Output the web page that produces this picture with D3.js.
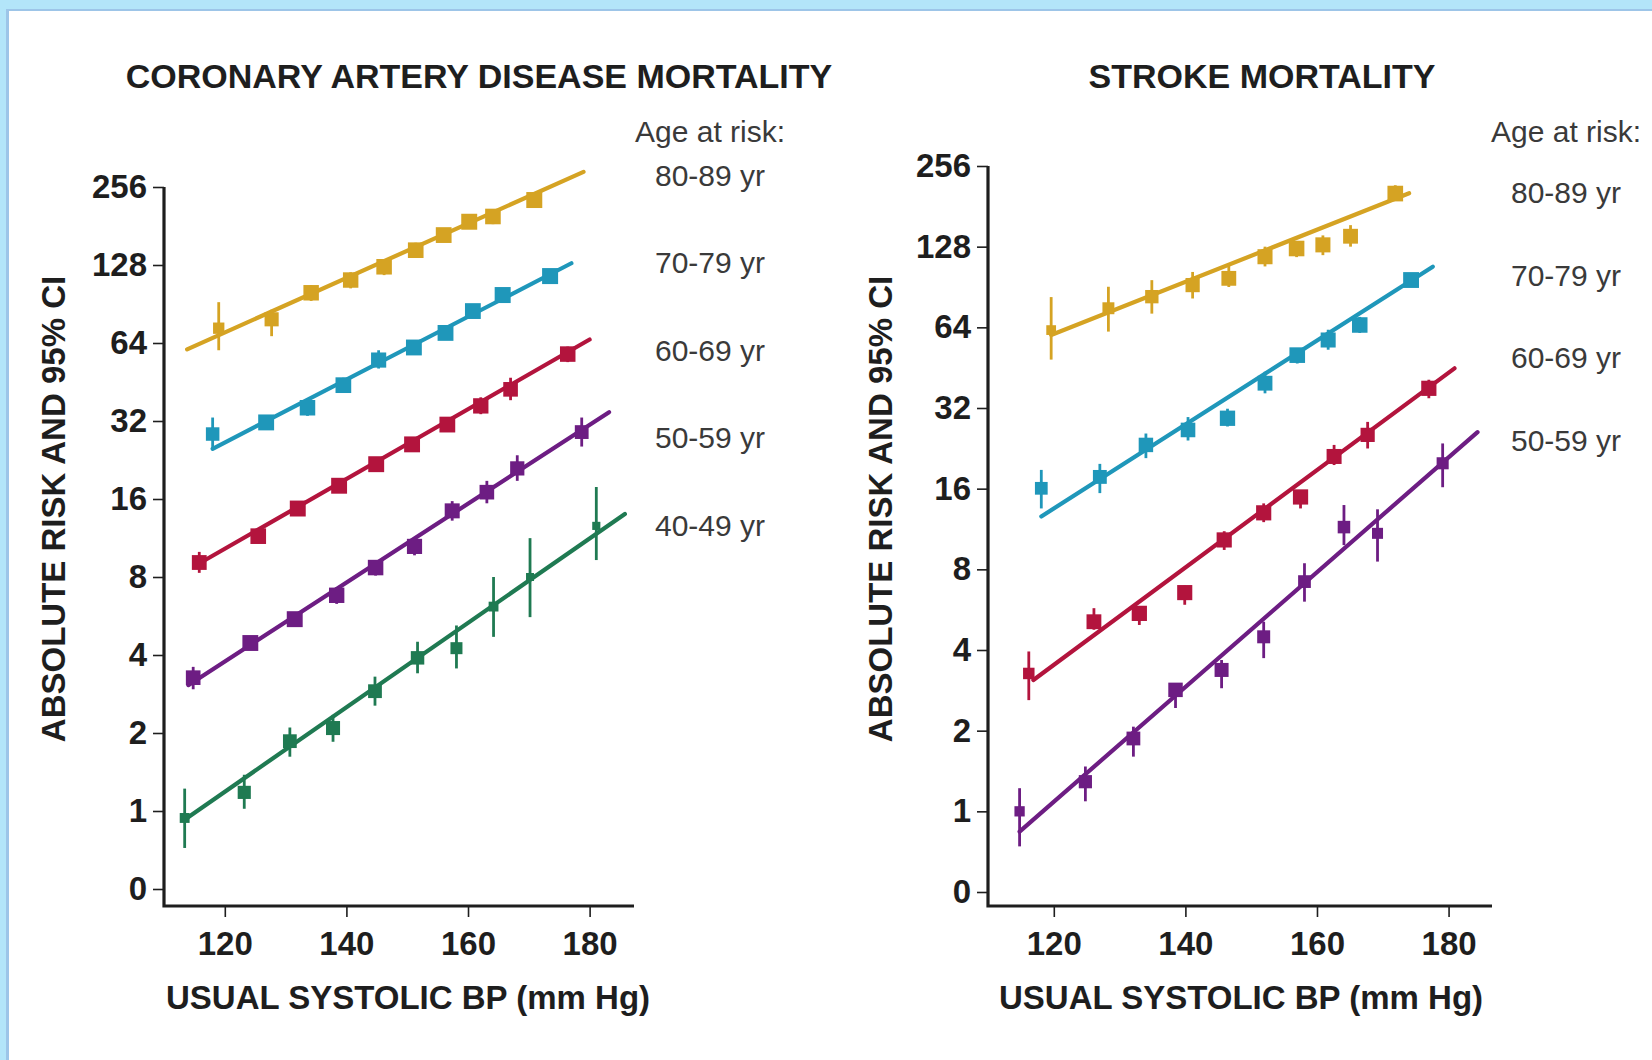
<!DOCTYPE html>
<html>
<head>
<meta charset="utf-8">
<script src="https://cdn.jsdelivr.net/npm/d3@7"></script>
<style>
  body { margin: 0; background: #b3e5f9; }
  svg { display: block; font-family: "Liberation Sans", Arial, sans-serif; }
</style>
</head>
<body>
<svg id="chart" width="1652" height="1060"></svg>
<script>
// Age groups, top to bottom
const ageLabels = ["80-89 yr", "70-79 yr", "60-69 yr", "50-59 yr", "40-49 yr"];
const yTicks = [0.5, 1, 2, 4, 8, 16, 32, 64, 128, 256];
const yTickLabels = ["0", "1", "2", "4", "8", "16", "32", "64", "128", "256"];
const xTicks = [120, 140, 160, 180];

// Coronary artery disease: [usual SBP, risk, lower CI, upper CI]
const cad80 = [[119.0, 73, 60, 92], [127.7, 79, 68, 86], [134.2, 100, 93, 107], [140.7, 112, 104, 120], [146.2, 126, 117, 134],
  [151.4, 146, 137, 156], [156.0, 167, 157, 177], [160.2, 188, 178, 198], [164.1, 197, 184, 210], [170.9, 228, 216, 240]];
const cad70 = [[118.0, 28.5, 25, 33], [126.8, 31.6, 30, 33.5], [133.6, 36, 33.5, 38.5], [139.5, 44, 41.5, 47], [145.3, 55, 51, 60],
  [151.1, 61.5, 58, 65], [156.3, 70, 66, 74], [160.8, 85, 80, 90], [165.7, 98, 93, 103], [173.5, 116, 110, 122]];
const cad60 = [[115.8, 9.1, 8.3, 10], [125.5, 11.5, 10.8, 12.3], [132.0, 14.7, 13.9, 15.5], [138.8, 18, 17, 19], [144.9, 21.8, 20.6, 23],
  [150.8, 26, 24.6, 27.5], [156.6, 31, 29.3, 33], [162.1, 36.6, 34, 39.5], [167.0, 42.4, 38.5, 47], [176.4, 58, 54, 62]];
const cad50 = [[114.8, 3.27, 2.95, 3.6], [124.2, 4.45, 4.2, 4.7], [131.5, 5.5, 5.2, 5.8], [138.4, 6.8, 6.3, 7.3], [144.8, 8.7, 8.1, 9.3],
  [151.2, 10.5, 9.7, 11.4], [157.4, 14.4, 13.2, 15.7], [163.1, 17, 15.4, 18.8], [168.1, 21, 18.8, 23.6], [178.7, 29, 25.5, 33]];
const cad40 = [[113.4, 0.94, 0.72, 1.22], [123.2, 1.18, 1.02, 1.38], [130.7, 1.86, 1.62, 2.1], [137.8, 2.09, 1.85, 2.35], [144.7, 2.9, 2.55, 3.3],
  [151.7, 3.9, 3.4, 4.5], [158.1, 4.25, 3.55, 5.2], [164.2, 6.15, 4.7, 8.0], [170.2, 8.0, 5.6, 11.3], [181.1, 12.6, 9.3, 17.8]];
// fitted lines: [SBP start, risk start, SBP end, risk end]
const cadFits = [[113.8, 60.5, 179.0, 293], [118.0, 25, 177.0, 130], [115.7, 9.0, 180.0, 66], [114.0, 3.06, 183.2, 34.6], [113.5, 0.93, 185.8, 14.0]];

// Stroke
const stroke80 = [[119.6, 62.5, 48.5, 83], [128.3, 75.4, 61.7, 90.7], [134.9, 83.3, 72, 96], [141.1, 92, 82, 103], [146.6, 97.5, 90.5, 109],
  [152.1, 117.4, 108, 128], [156.9, 126, 117, 133.6], [160.9, 130, 119, 141], [165.1, 140, 128, 154], [171.9, 202, 191, 217]];
const stroke70 = [[118.1, 16.05, 13.5, 18.8], [127.0, 17.7, 15.4, 19.8], [134.0, 23.3, 20.8, 25.7], [140.4, 26.5, 24.2, 29.6], [146.4, 29.3, 27.3, 31.8],
  [152.1, 39.6, 36.3, 43.7], [157.0, 50.4, 46.9, 53.4], [161.7, 57.4, 52.8, 62.7], [166.5, 65.3, 61, 70], [174.3, 96.1, 90.7, 101.8]];
const stroke60 = [[116.2, 3.27, 2.6, 3.95], [126.1, 5.1, 4.76, 5.73], [133.0, 5.48, 4.96, 5.8], [139.9, 6.55, 5.9, 6.96], [145.9, 10.3, 9.45, 11.1],
  [151.9, 13.0, 12.0, 14.1], [157.5, 14.9, 13.5, 15.8], [162.6, 21.1, 19.6, 23.3], [167.7, 25.4, 22.6, 28.4], [177.0, 37.9, 34.8, 40.8]];
const stroke50 = [[114.8, 1.0, 0.74, 1.22], [124.8, 1.29, 1.09, 1.47], [132.1, 1.87, 1.6, 2.07], [138.5, 2.84, 2.43, 3.0], [145.5, 3.37, 2.88, 3.67],
  [151.9, 4.48, 3.73, 5.1], [158.1, 7.2, 6.06, 8.43], [164.1, 11.5, 9.85, 13.9], [169.2, 10.9, 8.55, 13.4], [179.1, 19.9, 16.2, 23.6]];
const strokeFits = [[119.6, 59.9, 174.0, 202.5], [118.1, 12.6, 177.6, 107.8], [116.9, 3.09, 180.9, 45], [114.8, 0.84, 184.4, 26.0]];

const colors = ["#d5a323", "#1f97ba", "#b3143d", "#6d1d83", "#1f7a52"];
const ink = "#1e1e1e";

const svg = d3.select("#chart");

// frame: light blue page, darker rule, white card
svg.append("rect").attr("width", 1652).attr("height", 1060).attr("fill", "#b3e5f9");
svg.append("rect").attr("x", 6).attr("y", 9).attr("width", 1646).attr("height", 1051).attr("fill", "#9dc5e8");
svg.append("rect").attr("x", 9).attr("y", 11).attr("width", 1643).attr("height", 1049).attr("fill", "#fff");

const panels = [
  {
    title: "CORONARY ARTERY DISEASE MORTALITY", titleX: 479,
    series: [cad80, cad70, cad60, cad50, cad40], fits: cadFits,
    xRange: [164, 634], xDomain: [110, 187.3], yRange: [889, 187], axisY: 906,
    yTitleX: 53, xTitleX: 408,
    legendX: 635, labelX: 655, labelYs: [175, 262, 350, 437, 525]
  },
  {
    title: "STROKE MORTALITY", titleX: 1262,
    series: [stroke80, stroke70, stroke60, stroke50], fits: strokeFits,
    xRange: [988, 1492], xDomain: [110, 186.6], yRange: [892, 166], axisY: 906,
    yTitleX: 880, xTitleX: 1241,
    legendX: 1491, labelX: 1511, labelYs: [192, 275, 357, 440]
  }
];

function drawPanel(p) {
  const g = svg.append("g");
  const x = d3.scaleLinear().domain(p.xDomain).range(p.xRange);
  const y = d3.scaleLog().base(2).domain([0.5, 256]).range(p.yRange);

  // y axis
  const yAxis = g.append("g")
    .attr("transform", `translate(${p.xRange[0]},0)`)
    .call(d3.axisLeft(y).tickValues(yTicks).tickFormat((d, i) => yTickLabels[i]).tickSize(11).tickPadding(6));
  yAxis.select(".domain").remove();
  yAxis.selectAll("line").attr("stroke", ink).attr("stroke-width", 1.6);
  yAxis.selectAll("text").attr("fill", ink).attr("font-size", 33).attr("font-weight", "bold")
    .attr("font-family", "'Liberation Sans', Arial, sans-serif");

  // x axis
  const xAxis = g.append("g")
    .attr("transform", `translate(0,${p.axisY})`)
    .call(d3.axisBottom(x).tickValues(xTicks).tickSize(11).tickPadding(15));
  xAxis.select(".domain").remove();
  xAxis.selectAll("line").attr("stroke", ink).attr("stroke-width", 1.6);
  xAxis.selectAll("text").attr("fill", ink).attr("font-size", 33).attr("font-weight", "bold")
    .attr("font-family", "'Liberation Sans', Arial, sans-serif");

  // axis lines meeting at the corner
  g.append("path")
    .attr("d", `M${p.xRange[0]},${y(256)}V${p.axisY}H${p.xRange[1]}`)
    .attr("fill", "none").attr("stroke", ink).attr("stroke-width", 3.2);

  // fitted lines
  g.selectAll(".fit").data(p.fits).enter().append("line")
    .attr("x1", d => x(d[0])).attr("y1", d => y(d[1]))
    .attr("x2", d => x(d[2])).attr("y2", d => y(d[3]))
    .attr("stroke", (d, i) => colors[i]).attr("stroke-width", 4.2).attr("stroke-linecap", "round");

  // points with 95% CI
  p.series.forEach((pts, i) => {
    const s = g.append("g").attr("fill", colors[i]).attr("stroke", colors[i]);
    s.selectAll("line").data(pts).enter().append("line")
      .attr("x1", d => x(d[0])).attr("x2", d => x(d[0]))
      .attr("y1", d => y(d[2])).attr("y2", d => y(d[3]))
      .attr("stroke-width", 2.8);
    s.selectAll("rect").data(pts).enter().append("rect")
      .each(function (d) {
        const size = Math.max(8, Math.min(16, 17.5 - 10 * Math.log2(d[3] / d[2])));
        d3.select(this)
          .attr("x", x(d[0]) - size / 2).attr("y", y(d[1]) - size / 2)
          .attr("width", size).attr("height", size);
      })
      .attr("stroke", "none");
  });

  // titles
  g.append("text").attr("x", p.titleX).attr("y", 88).attr("text-anchor", "middle")
    .attr("font-size", 34).attr("font-weight", "bold").attr("fill", ink).text(p.title);
  g.append("text").attr("x", p.xTitleX).attr("y", 1009).attr("text-anchor", "middle")
    .attr("font-size", 33).attr("font-weight", "bold").attr("fill", ink).text("USUAL SYSTOLIC BP (mm Hg)");
  g.append("text").attr("transform", `translate(${p.yTitleX + 12},509) rotate(-90)`).attr("text-anchor", "middle")
    .attr("font-size", 33).attr("font-weight", "bold").attr("fill", ink).text("ABSOLUTE RISK AND 95% CI");

  // legend labels
  g.append("text").attr("x", p.legendX).attr("y", 131).attr("dy", "0.35em")
    .attr("font-size", 30).attr("fill", "#3a3a3a").text("Age at risk:");
  g.selectAll(".age").data(p.labelYs).enter().append("text")
    .attr("x", p.labelX).attr("y", d => d).attr("dy", "0.35em")
    .attr("font-size", 30).attr("fill", "#3a3a3a").text((d, i) => ageLabels[i]);
}

panels.forEach(drawPanel);
</script>
</body>
</html>
